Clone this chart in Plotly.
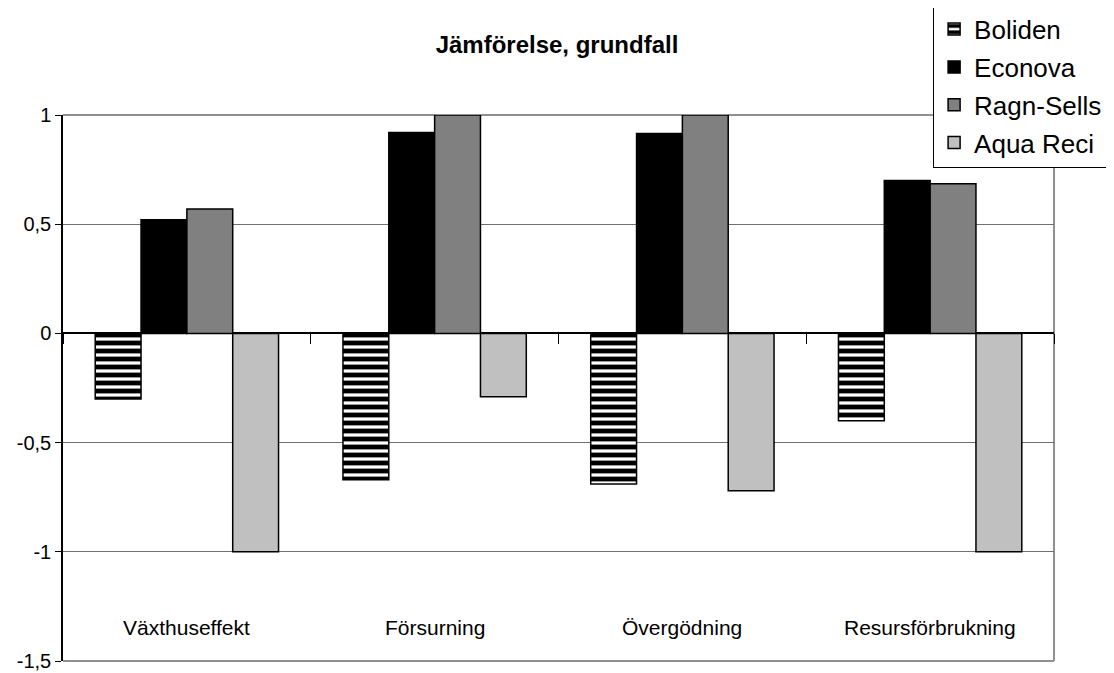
import plotly.graph_objects as go

categories = ["Växthuseffekt", "Försurning", "Övergödning", "Resursförbrukning"]
boliden = [-0.30, -0.67, -0.69, -0.40]
econova = [0.52, 0.92, 0.915, 0.70]
ragn_sells = [0.57, 1.0, 1.0, 0.685]
aqua_reci = [-1.0, -0.29, -0.72, -1.0]
series_names = ["Boliden", "Econova", "Ragn-Sells", "Aqua Reci"]
y_tickvals = [-1.5, -1, -0.5, 0, 0.5, 1]
y_ticktext = ["-1,5", "-1", "-0,5", "0", "0,5", "1"]
title_text = "Jämförelse, grundfall"

FONT = "Liberation Sans, Arial, sans-serif"

fig = go.Figure()
series = [boliden, econova, ragn_sells, aqua_reci]
colors = ["white", "black", "#808080", "#C0C0C0"]
for i, (name, vals, col) in enumerate(zip(series_names, series, colors)):
    marker = dict(color=col, line=dict(color="black", width=1.5))
    if i == 0:
        marker["pattern"] = dict(shape="-", fgcolor="black", bgcolor="white",
                                 size=8, solidity=0.6, fillmode="replace")
    fig.add_trace(go.Bar(x=categories, y=vals, name=name, marker=marker,
                         legendgroup=name))

for c in categories:
    fig.add_annotation(x=c, y=-1.345, xref="x", yref="y", text=c,
                       showarrow=False, font=dict(size=21, color="black", family=FONT))

# plot-area border (top, right, bottom in gray)
fig.add_shape(type="line", xref="paper", yref="paper", x0=0, x1=1, y0=1, y1=1,
              line=dict(color="#909090", width=2), layer="below")
fig.add_shape(type="line", xref="paper", yref="paper", x0=1, x1=1, y0=0, y1=1,
              line=dict(color="#909090", width=2), layer="below")
fig.add_shape(type="line", xref="paper", yref="paper", x0=0, x1=1, y0=0, y1=0,
              line=dict(color="#909090", width=2), layer="below")

fig.update_layout(
    width=1098, height=665,
    margin=dict(l=55, r=52, t=107, b=12, autoexpand=False),
    paper_bgcolor="white", plot_bgcolor="white",
    font=dict(family=FONT, size=20, color="black"),
    barmode="group", bargap=0.26, bargroupgap=0,
    title=dict(text="<b>" + title_text + "</b>", x=0.5, xanchor="center",
               y=1 - 37 / 665, yanchor="middle",
               font=dict(size=24, family=FONT, color="black")),
    legend=dict(x=0.878, xanchor="left", y=1.202, yanchor="top",
                bgcolor="white", bordercolor="black", borderwidth=1,
                font=dict(size=26, family=FONT, color="black"),
                tracegroupgap=1, itemwidth=30),
    showlegend=True,
)
fig.update_xaxes(type="category", range=[-0.5, 3.5], showticklabels=False,
                 showline=False, showgrid=False, zeroline=False,
                 ticks="outside", tickson="boundaries", ticklen=10,
                 tickcolor="black", tickwidth=1,
                 anchor="free", position=0.6)
fig.update_yaxes(range=[-1.5, 1], tickmode="array", tickvals=y_tickvals,
                 ticktext=y_ticktext, showgrid=True, gridcolor="#707070",
                 gridwidth=1, zeroline=True, zerolinecolor="black",
                 zerolinewidth=1.5, showline=True, linecolor="black",
                 linewidth=1.5, ticks="outside", ticklen=6, tickcolor="black",
                 ticklabeloverflow="allow",
                 tickfont=dict(size=20, family=FONT, color="black"))

fig.write_html("out.html")
